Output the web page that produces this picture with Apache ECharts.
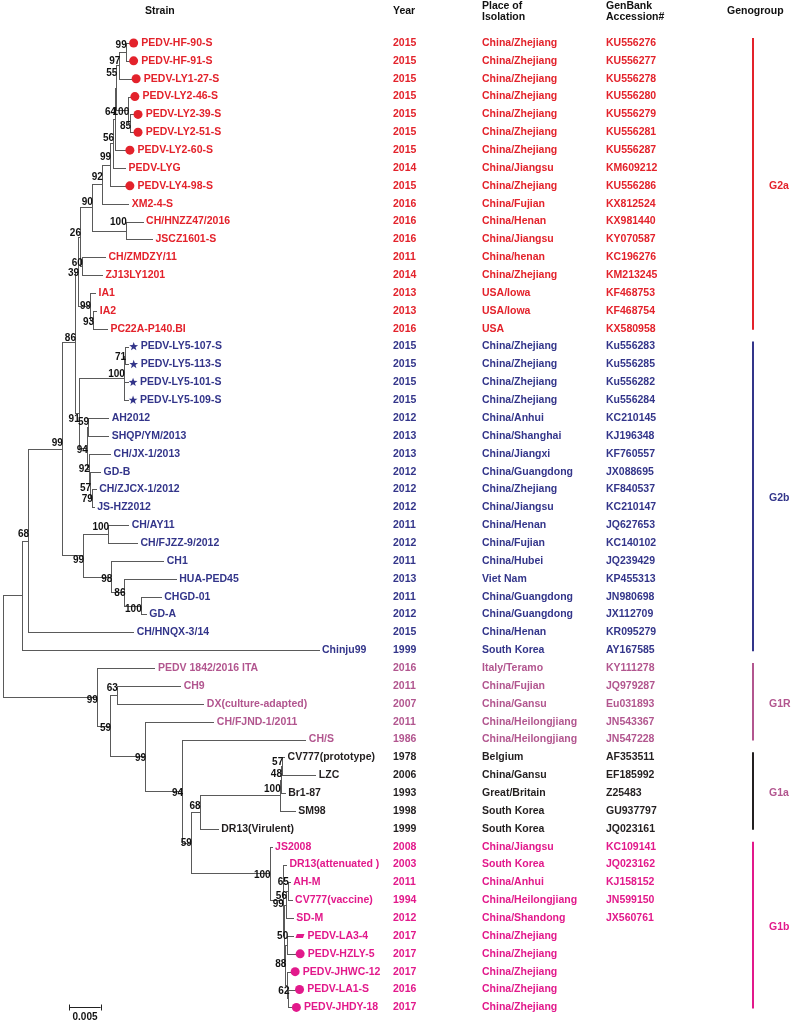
<!DOCTYPE html>
<html><head><meta charset="utf-8">
<script src="https://cdn.jsdelivr.net/npm/echarts@6/dist/echarts.min.js"></script>
<style>html,body{margin:0;padding:0;background:#fff}#c{width:791px;height:1022px}</style>
</head><body><div id="c"></div>
<script>
// ---------------- DATA ----------------
const strains = ["PEDV-HF-90-S","PEDV-HF-91-S","PEDV-LY1-27-S","PEDV-LY2-46-S","PEDV-LY2-39-S","PEDV-LY2-51-S","PEDV-LY2-60-S","PEDV-LYG","PEDV-LY4-98-S","XM2-4-S","CH/HNZZ47/2016","JSCZ1601-S","CH/ZMDZY/11","ZJ13LY1201","IA1","IA2","PC22A-P140.BI",
"PEDV-LY5-107-S","PEDV-LY5-113-S","PEDV-LY5-101-S","PEDV-LY5-109-S","AH2012","SHQP/YM/2013","CH/JX-1/2013","GD-B","CH/ZJCX-1/2012","JS-HZ2012","CH/AY11","CH/FJZZ-9/2012","CH1","HUA-PED45","CHGD-01","GD-A","CH/HNQX-3/14","Chinju99",
"PEDV 1842/2016 ITA","CH9","DX(culture-adapted)","CH/FJND-1/2011","CH/S",
"CV777(prototype)","LZC","Br1-87","SM98","DR13(Virulent)",
"JS2008","DR13(attenuated )","AH-M","CV777(vaccine)","SD-M","PEDV-LA3-4","PEDV-HZLY-5","PEDV-JHWC-12","PEDV-LA1-S","PEDV-JHDY-18"];
const years = ["2015","2015","2015","2015","2015","2015","2015","2014","2015","2016","2016","2016","2011","2014","2013","2013","2016",
"2015","2015","2015","2015","2012","2013","2013","2012","2012","2012","2011","2012","2011","2013","2011","2012","2015","1999",
"2016","2011","2007","2011","1986",
"1978","2006","1993","1998","1999",
"2008","2003","2011","1994","2012","2017","2017","2017","2016","2017"];
const places = ["China/Zhejiang","China/Zhejiang","China/Zhejiang","China/Zhejiang","China/Zhejiang","China/Zhejiang","China/Zhejiang","China/Jiangsu","China/Zhejiang","China/Fujian","China/Henan","China/Jiangsu","China/henan","China/Zhejiang","USA/Iowa","USA/Iowa","USA",
"China/Zhejiang","China/Zhejiang","China/Zhejiang","China/Zhejiang","China/Anhui","China/Shanghai","China/Jiangxi","China/Guangdong","China/Zhejiang","China/Jiangsu","China/Henan","China/Fujian","China/Hubei","Viet Nam","China/Guangdong","China/Guangdong","China/Henan","South Korea",
"Italy/Teramo","China/Fujian","China/Gansu","China/Heilongjiang","China/Heilongjiang",
"Belgium","China/Gansu","Great/Britain","South Korea","South Korea",
"China/Jiangsu","South Korea","China/Anhui","China/Heilongjiang","China/Shandong","China/Zhejiang","China/Zhejiang","China/Zhejiang","China/Zhejiang","China/Zhejiang"];
const accessions = ["KU556276","KU556277","KU556278","KU556280","KU556279","KU556281","KU556287","KM609212","KU556286","KX812524","KX981440","KY070587","KC196276","KM213245","KF468753","KF468754","KX580958",
"Ku556283","Ku556285","Ku556282","Ku556284","KC210145","KJ196348","KF760557","JX088695","KF840537","KC210147","JQ627653","KC140102","JQ239429","KP455313","JN980698","JX112709","KR095279","AY167585",
"KY111278","JQ979287","Eu031893","JN543367","JN547228",
"AF353511","EF185992","Z25483","GU937797","JQ023161",
"KC109141","JQ023162","KJ158152","JN599150","JX560761","","","","",""];
// marker drawn before the strain name: c = circle, s = star, p = parallelogram
const markers = ["c","c","c","c","c","c","c","","c","","","","","","","","",
"s","s","s","s","","","","","","","","","","","","","","",
"","","","","",
"","","","","",
"","","","","","p","c","c","c","c"];
const groupNames = ["G2a","G2b","G1R","G1a","G1b"];
const groupFirstRow = [0,17,35,40,45];
const groupLastRow = [16,34,39,44,54];
const headers = ["Strain","Year","Place of\nIsolation","GenBank\nAccession#","Genogroup"];
const scaleBarLength = 0.005;

// Tree (Newick, tips = row index, internal labels = bootstrap, lengths = substitutions/site)
const nwkG2a = "((((((((((0:0.0005,1:0.0005)99:0.0010,2:0.0019)97:0.0005,(3:0.0003,(4:0.0005,5:0.0005)85:0.0003)100:0.0019)55:0.0002,6:0.0016)64:0.0003,7:0.0019)56:0.0005,8:0.0024)99:0.0013,9:0.0042)92:0.0016,(10:0.0027,11:0.0042)100:0.0054)90:0.0019,(12:0.0037,13:0.0032)60:0.0003)26:0.0003,(14:0.0008,(15:0.0005,16:0.0022)93:0.0005)99:0.0019)39";
const nwkG2bA = "(((17:0.0005,18:0.0005)71:0.0002,19:0.0006,20:0.0006)100:0.0072,((21:0.0032,22:0.0032)59:0.0002,(23:0.0034,(24:0.0016,(25:0.0006,26:0.0003)79:0.0003)57:0.0002)92:0.0003)94:0.0013)91";
const nwkG2bB = "((27:0.0032,28:0.0046)100:0.0040,(29:0.0083,(30:0.0082,(31:0.0032,32:0.0008)100:0.0026)86:0.0021)98:0.0045)99";
const nwkG1a = "((((40:0.0003,41:0.0053)57:0.0002,42:0.0006)48:0.0002,43:0.0024)100:0.0128,44:0.0029)68";
const nwkG1b = "(45:0.0003,(46:0.0005,(((47:0.0003,48:0.0006)65:0.0003,49:0.0011)56:0.0003,((50:0.0010,51:0.0013)50:0.0003,(52:0.0006,(53:0.0010,54:0.0005)62:0.0003):0.0002)88:0.0002):0.0002)99:0.0021)100";
const nwkG2 = "((((" + nwkG2a + ":0.0005," + nwkG2bA + ":0.0006)86:0.0021," + nwkG2bB + ":0.0034)99:0.0054,33:0.0168)68:0.0010,34:0.0474)";
const nwkG1 = "(35:0.0092,((36:0.0101,37:0.0138)63:0.0011,(38:0.0109,(39:0.0197,(" + nwkG1a + ":0.0014," + nwkG1b + ":0.0126)59:0.0014)94:0.0059)99:0.0056)59:0.0021)99";
const newick = "(" + nwkG2 + ":0.0030," + nwkG1 + ":0.0150);";

// ---------------- STYLE / LAYOUT ----------------
const FONT = '"Liberation Sans", Arial, Helvetica, sans-serif';
const groupColors = ["#e3222b","#33358a","#b2568f","#231f20","#e2198b"];
const groupLabelColors = ["#e3222b","#33358a","#b2568f","#b2568f","#e2198b"];
const LINE_COLOR = "#5a5a5a";
const COL_YEAR = 393, COL_PLACE = 482, COL_ACC = 606, BAR_X = 752, GROUP_LABEL_X = 769;
// vertical offset (px) of bootstrap labels, keyed by "firstRow-lastRow" of the clade
const BOOT_DY_DEFAULT = -4;
const bootDy = {"0-16":2,"0-5":-14,"0-1":-7,"4-5":3,"3-5":2,"0-6":-7,"0-7":-5,"0-8":-7,"0-9":-7,"0-11":-5,"10-11":-8,"12-13":-3,"14-16":0,"15-16":2,
"0-26":-4,"0-32":-6,"0-33":-6,"17-26":6,"21-22":-5,"21-26":2,"23-26":0,"24-26":3,"25-26":1,"17-18":2,
"27-32":5,"27-28":-7,"29-32":3,"30-32":1,"31-32":4,
"35-54":3,"36-54":3,"36-37":-7,"38-54":2,"39-54":2,"40-54":1,"40-44":-6,"40-43":-6,"40-42":-5,"40-41":-4,
"45-54":2,"46-54":5,"47-49":-8,"47-48":-9,"50-54":-1,"50-51":-9,"53-54":-7};

function groupOf(row){ for (let g=0; g<groupNames.length; g++){ if (row>=groupFirstRow[g] && row<=groupLastRow[g]) return g; } return 0; }

function parseNewick(s){
  s = s.replace(/\s+/g,'');
  let i = 0;
  function node(){
    const n = {children:[], label:'', len:0};
    if (s[i] === '('){
      i++;
      n.children.push(node());
      while (s[i] === ','){ i++; n.children.push(node()); }
      i++;
    }
    let lab = '';
    while (i < s.length && ':,);'.indexOf(s[i]) < 0) lab += s[i++];
    n.label = lab;
    if (s[i] === ':'){ i++; let num=''; while (i < s.length && ',);'.indexOf(s[i]) < 0) num += s[i++]; n.len = parseFloat(num); }
    return n;
  }
  return node();
}
function layout(n, x0){
  n.x = x0 + n.len;
  if (!n.children.length){ n.row = parseInt(n.label,10); n.y = n.row; n.lo = n.hi = n.row; return; }
  n.children.forEach(c => layout(c, n.x));
  n.y = (n.children[0].y + n.children[n.children.length-1].y)/2;
  n.lo = Math.min(...n.children.map(c=>c.lo));
  n.hi = Math.max(...n.children.map(c=>c.hi));
}
const tree = parseNewick(newick);
tree.len = 0;
layout(tree, 0);
const segs = [], boots = [], bootKeys = [], tipData = [];
(function collect(n, parent){
  if (parent) segs.push([parent.x, n.y, n.x, n.y]);
  if (n.children.length){
    segs.push([n.x, n.children[0].y, n.x, n.children[n.children.length-1].y]);
    if (n.label){ boots.push([n.x, n.y, n.label]); bootKeys.push(n.lo + '-' + n.hi); }
    n.children.forEach(c => collect(c, n));
  } else tipData.push([n.x, n.row]);
})(tree, null);

const rowData = strains.map((s,i)=>[0,i]);
const groupData = groupNames.map((g,i)=>[groupFirstRow[i], groupLastRow[i], i]);

function px(v){ return Math.round(v) + 0.5; }

function starPoints(cx, cy, R, r){
  const pts=[];
  for (let k=0;k<10;k++){
    const a = -Math.PI/2 + k*Math.PI/5;
    const rad = (k%2===0)?R:r;
    pts.push([cx + rad*Math.cos(a), cy + rad*Math.sin(a)]);
  }
  return pts;
}

const chart = echarts.init(document.getElementById('c'), null, {renderer:'canvas'});
const option = {
  animation:false,
  backgroundColor:'#ffffff',
  grid:{left:3, right:162, top:43, bottom:14.6},
  xAxis:{type:'value', min:0, max:0.1, show:false},
  yAxis:{type:'value', min:0, max:strains.length-1, inverse:true, show:false},
  series:[
    { // branches
      type:'custom', coordinateSystem:'cartesian2d', data:segs, silent:true,
      renderItem:(params, api)=>{
        const p1 = api.coord([api.value(0), api.value(1)]);
        const p2 = api.coord([api.value(2), api.value(3)]);
        const horiz = Math.abs(p1[1]-p2[1]) < 0.01;
        return {type:'line', shape: horiz
          ? {x1:Math.round(p1[0]), y1:px(p1[1]), x2:Math.round(p2[0])+1, y2:px(p2[1])}
          : {x1:px(p1[0]), y1:Math.round(p1[1]), x2:px(p2[0]), y2:Math.round(p2[1])+1},
          style:{stroke:LINE_COLOR, lineWidth:1}};
      }
    },
    { // bootstrap values
      type:'custom', coordinateSystem:'cartesian2d', data:boots, silent:true,
      renderItem:(params, api)=>{
        const p = api.coord([api.value(0), api.value(1)]);
        const k = bootKeys[params.dataIndex];
        const dy = (k in bootDy) ? bootDy[k] : BOOT_DY_DEFAULT;
        return {type:'text', x:p[0]+1, y:p[1]+dy,
          style:{text:String(boots[params.dataIndex][2]), fill:'#111', font:'bold 10px '+FONT, align:'right', verticalAlign:'middle'}};
      }
    },
    { // tip labels + markers
      type:'custom', coordinateSystem:'cartesian2d', data:tipData, silent:true,
      renderItem:(params, api)=>{
        const row = api.value(1);
        const p = api.coord([api.value(0), row]);
        const col = groupColors[groupOf(row)];
        const children = [];
        let tx = p[0] + 3.5;
        const m = markers[row];
        if (m === 'c'){
          children.push({type:'circle', shape:{cx:p[0]+4.8, cy:p[1], r:4.5}, style:{fill:col}});
          tx = p[0] + 12.5;
        } else if (m === 's'){
          children.push({type:'polygon', shape:{points:starPoints(p[0]+5.5, p[1], 4.6, 1.9)}, style:{fill:col}});
          tx = p[0] + 12.5;
        } else if (m === 'p'){
          children.push({type:'polygon', shape:{points:[[p[0]+2,p[1]+2],[p[0]+9.5,p[1]+2],[p[0]+11,p[1]-2],[p[0]+3.5,p[1]-2]]}, style:{fill:col}});
          tx = p[0] + 14;
        }
        children.push({type:'text', x:tx, y:p[1], style:{text:strains[row], fill:col, font:'bold 10.5px '+FONT, align:'left', verticalAlign:'middle'}});
        return {type:'group', children};
      }
    },
    { // year / place / accession columns
      type:'custom', coordinateSystem:'cartesian2d', data:rowData, silent:true,
      renderItem:(params, api)=>{
        const row = api.value(1);
        const y = api.coord([0,row])[1];
        const col = groupColors[groupOf(row)];
        const f = 'bold 10.5px '+FONT;
        return {type:'group', children:[
          {type:'text', x:COL_YEAR, y, style:{text:years[row], fill:col, font:f, verticalAlign:'middle'}},
          {type:'text', x:COL_PLACE, y, style:{text:places[row], fill:col, font:f, verticalAlign:'middle'}},
          {type:'text', x:COL_ACC, y, style:{text:accessions[row], fill:col, font:f, verticalAlign:'middle'}}
        ]};
      }
    },
    { // genogroup bars
      type:'custom', coordinateSystem:'cartesian2d', data:groupData, silent:true,
      renderItem:(params, api)=>{
        const g = api.value(2);
        const y1 = api.coord([0, api.value(0)])[1] - 5;
        const y2 = api.coord([0, api.value(1)])[1] + 1;
        return {type:'group', children:[
          {type:'rect', shape:{x:BAR_X, y:y1, width:2, height:y2-y1}, style:{fill:groupColors[g]}},
          {type:'text', x:GROUP_LABEL_X, y:(y1+y2)/2 + 2, style:{text:groupNames[g], fill:groupLabelColors[g], font:'bold 10.5px '+FONT, verticalAlign:'middle'}}
        ]};
      }
    },
    { // scale bar
      type:'custom', coordinateSystem:'cartesian2d', data:[[0.0106, strains.length-1]], silent:true,
      renderItem:(params, api)=>{
        const a = api.coord([api.value(0), api.value(1)]);
        const b = api.coord([api.value(0)+scaleBarLength, api.value(1)]);
        const y = px(a[1]);
        return {type:'group', children:[
          {type:'line', shape:{x1:a[0], y1:y, x2:b[0], y2:y}, style:{stroke:'#222', lineWidth:1}},
          {type:'line', shape:{x1:px(a[0]), y1:y-3, x2:px(a[0]), y2:y+3}, style:{stroke:'#222', lineWidth:1}},
          {type:'line', shape:{x1:px(b[0]), y1:y-3, x2:px(b[0]), y2:y+3}, style:{stroke:'#222', lineWidth:1}},
          {type:'text', x:(a[0]+b[0])/2, y:y+10, style:{text:String(scaleBarLength), fill:'#111', font:'bold 10px '+FONT, align:'center', verticalAlign:'middle'}}
        ]};
      }
    }
  ],
  graphic:[
    {type:'text', left:145, top:6, style:{text:headers[0], fill:'#111', font:'bold 10.5px '+FONT}},
    {type:'text', left:COL_YEAR, top:6, style:{text:headers[1], fill:'#111', font:'bold 10.5px '+FONT}},
    {type:'text', left:COL_PLACE, top:1, style:{text:headers[2], fill:'#111', font:'bold 10.5px '+FONT, lineHeight:11}},
    {type:'text', left:COL_ACC, top:1, style:{text:headers[3], fill:'#111', font:'bold 10.5px '+FONT, lineHeight:11}},
    {type:'text', left:727, top:6, style:{text:headers[4], fill:'#111', font:'bold 10.5px '+FONT}}
  ]
};
chart.setOption(option);
</script>
</body></html>
